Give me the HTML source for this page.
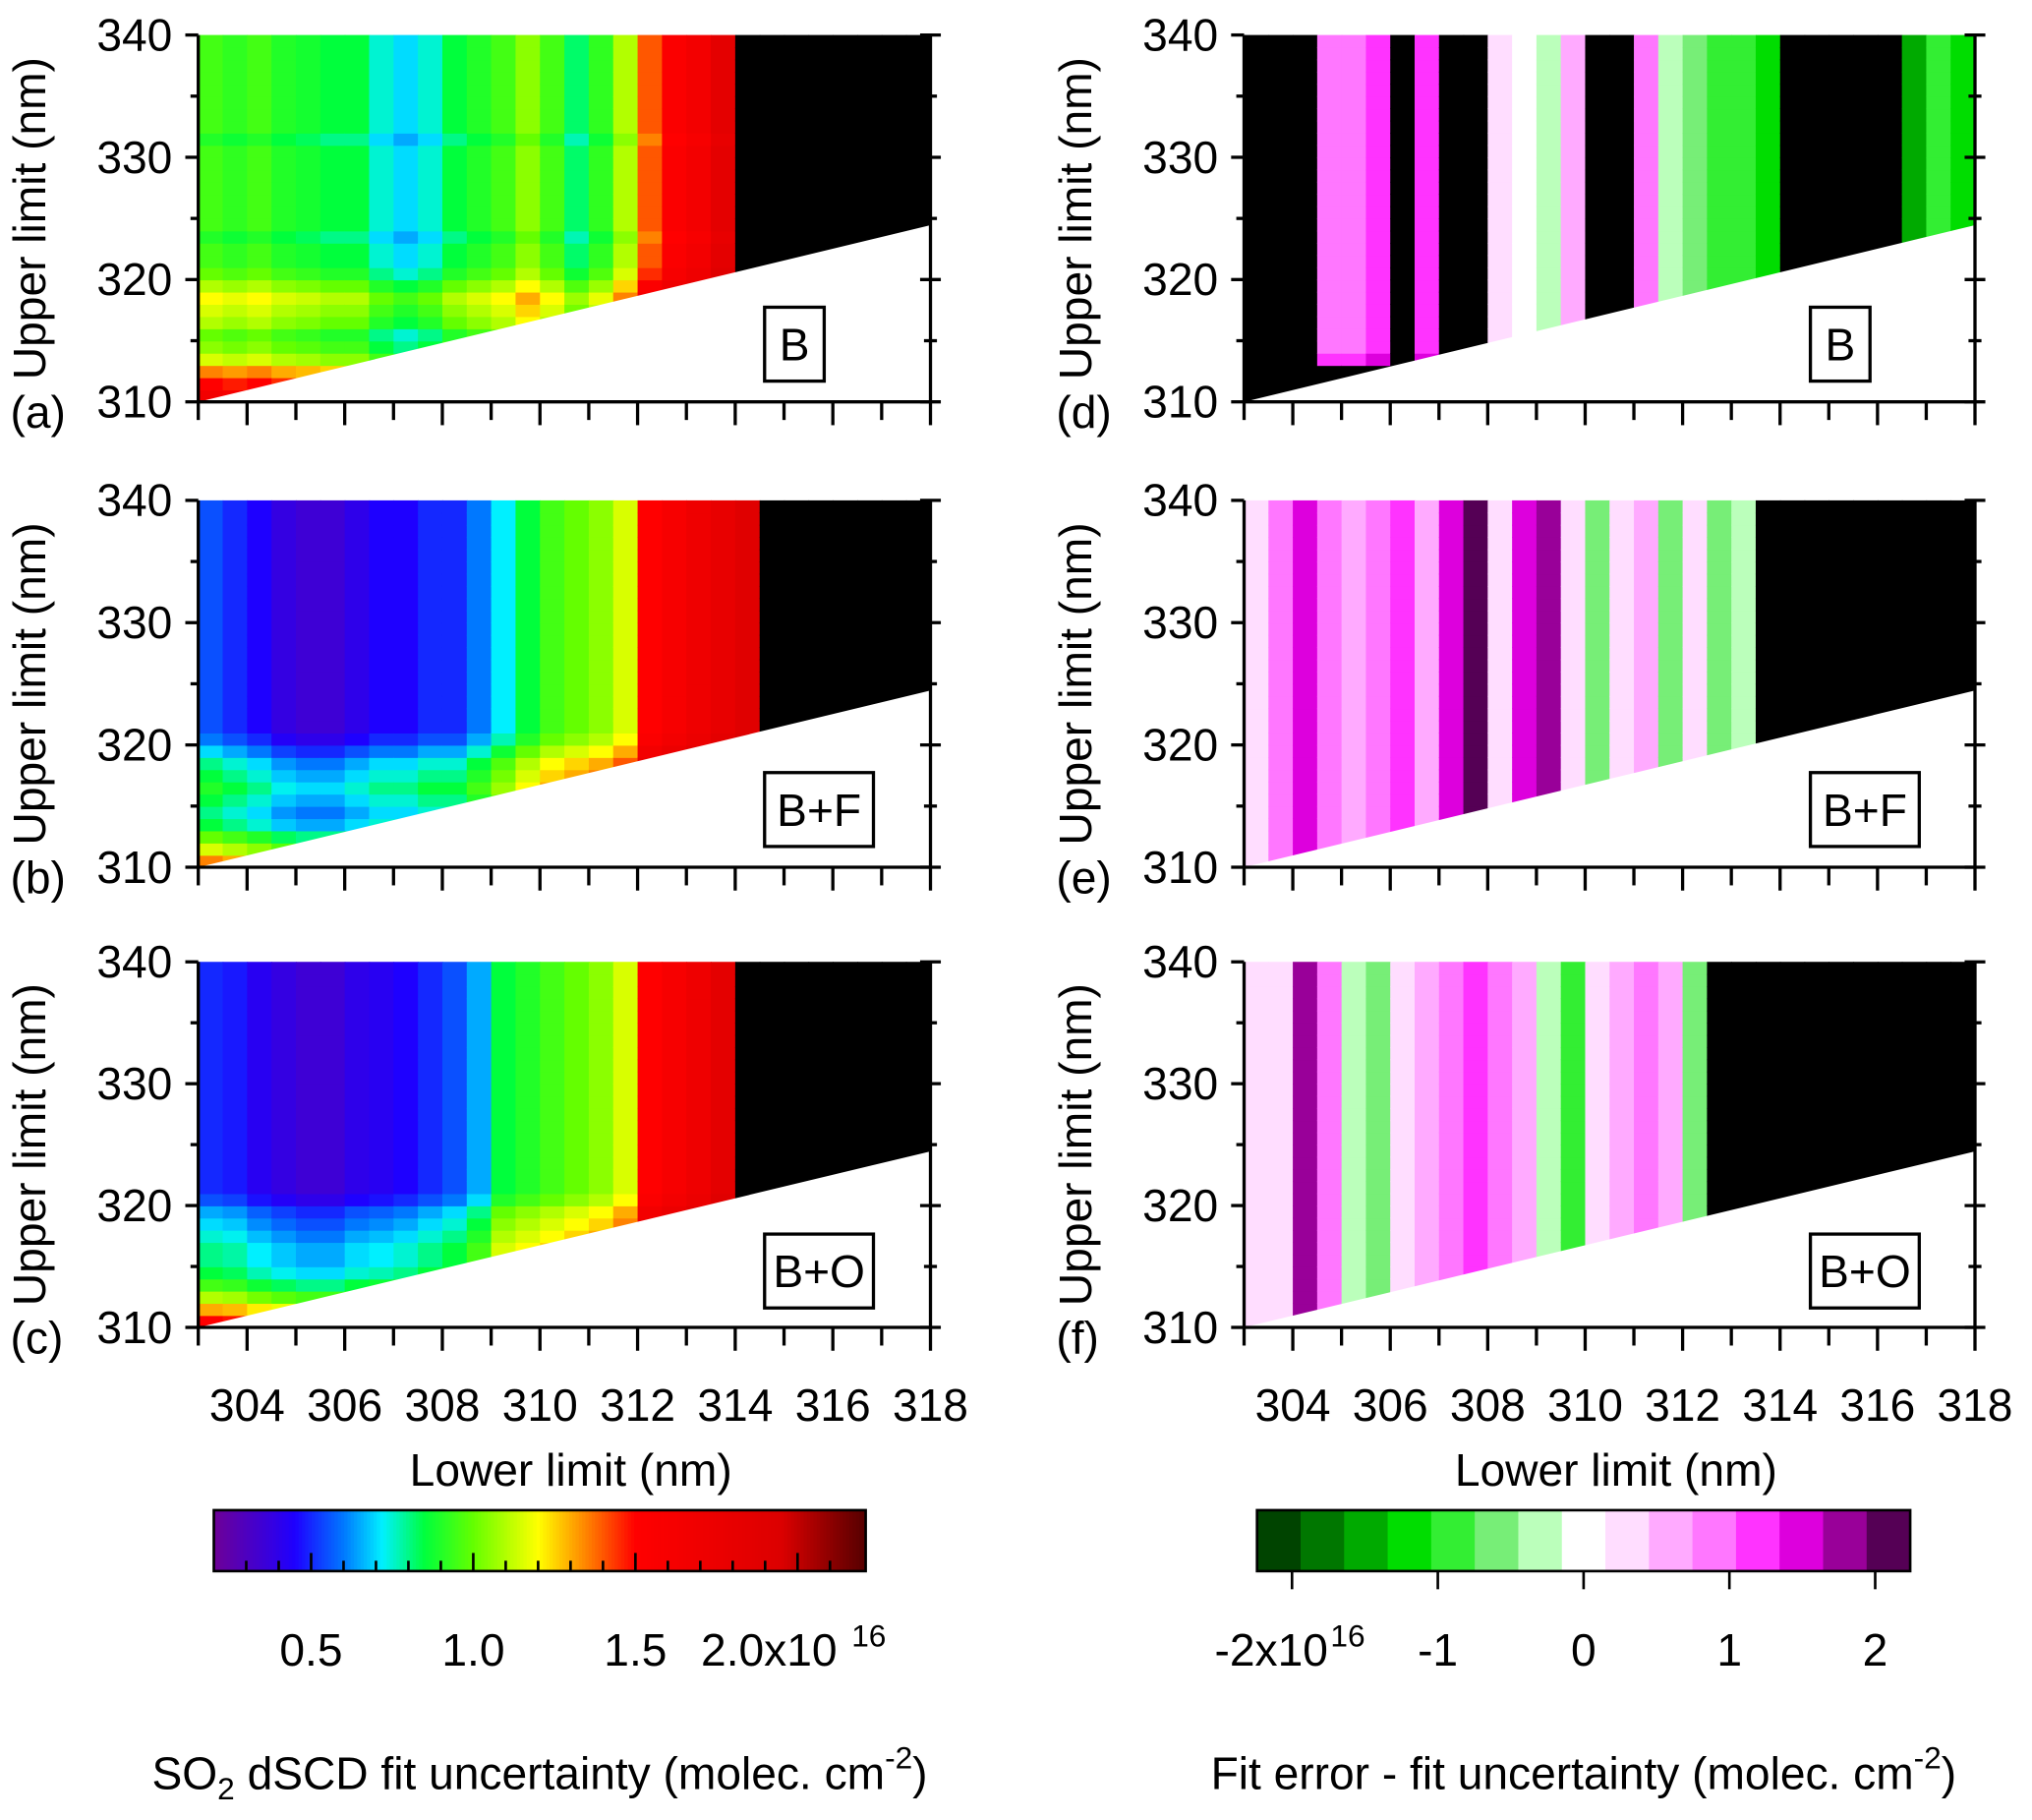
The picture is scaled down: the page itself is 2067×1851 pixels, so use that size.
<!DOCTYPE html>
<html><head><meta charset="utf-8"><style>
html,body{margin:0;padding:0;background:#fff;}
svg{display:block;font-family:"Liberation Sans",Arial,sans-serif;}
</style></head><body>
<svg id="fig" width="2067" height="1851" viewBox="0 0 1568 1404" preserveAspectRatio="none" xmlns="http://www.w3.org/2000/svg"></svg>
<script>
// ---- data (values in 1e16 molec cm^-2); 9 = black (no valid fit) ----
const lowerLimits=[303,303.5,304,304.5,305,305.5,306,306.5,307,307.5,308,308.5,309,309.5,310,310.5,311,311.5,312,312.5,313,313.5,314,314.5,315,315.5,316,316.5,317,317.5];
const upperLimits=[310,311,312,313,314,315,316,317,318,319,320,321,322,323,324,325,326,327,328,329,330,331,332,333,334,335,336,337,338,339];
const colA=[0.95,0.92,0.95,0.9,0.88,0.85,0.85,0.75,0.7,0.75,0.85,0.9,0.95,1.05,0.95,0.82,0.92,1.1,1.4,1.55,1.65,1.85,9,9,9,9,9,9,9,9];
const rowA=[0.7,0.55,0.4,0.2,0.1,0.05,0.15,0.2,0.25,0.15,0.05,0,0,-0.05,0,0,0,0,0,0,0,-0.05,0,0,0,0,0,0,0,0];
const colB=[0.55,0.5,0.45,0.38,0.35,0.35,0.4,0.45,0.45,0.5,0.5,0.6,0.72,0.85,0.95,1.0,1.05,1.15,1.5,1.6,1.7,1.8,1.9,9,9,9,9,9,9,9];
const rowB=[0.8,0.6,0.45,0.3,0.25,0.3,0.35,0.3,0.25,0.15,0.05,0,0,0,0,0,0,0,0,0,0,0,0,0,0,0,0,0,0,0];
const colC=[0.5,0.48,0.42,0.38,0.35,0.35,0.4,0.42,0.45,0.5,0.55,0.65,0.85,0.9,0.95,1.0,1.05,1.15,1.5,1.6,1.7,1.85,9,9,9,9,9,9,9,9];
const rowC=[1.0,0.8,0.6,0.45,0.35,0.3,0.3,0.25,0.2,0.15,0.05,0,0,0,0,0,0,0,0,0,0,0,0,0,0,0,0,0,0,0];
const colD=[9,9,9,1.0,0.8,1.2,9,1.2,9,9,0.3,0,-0.3,0.5,9,9,0.8,-0.3,-0.6,-1.0,-0.8,-1.2,9,9,9,9,9,-1.5,-1.0,-1.2];
const colE=[0.2,0.8,1.6,1.0,0.6,0.9,1.2,0.5,1.6,2.0,0.4,1.5,1.8,0.3,-0.6,0.4,0.5,-0.5,0.2,-0.6,-0.4,9,9,9,9,9,9,9,9,9];
const colF=[0.3,0.4,1.8,0.9,-0.3,-0.6,0.3,0.6,0.9,1.2,0.9,0.5,-0.4,-0.9,0.2,0.5,0.8,0.6,-0.5,9,9,9,9,9,9,9,9,9,9,9];
const rowD=[9,9,9,0.3,0,0,0,0,0,0,0,0,0,0,0,0,0,0,0,0,0,0,0,0,0,0,0,0,0,0];
const xTicks=[304,306,308,310,312,314,316,318];
const yTicks=[310,320,330,340];
const cbLeftTicks=[0.5,1.0,1.5,2.0];
const cbLeftLabels=["0.5","1.0","1.5","2.0x10"];
const cbRightTicks=[-2,-1,0,1,2];
const cbRightLabels=["-2x10","-1","0","1","2"];

const NS="http://www.w3.org/2000/svg";
const svg=document.getElementById('fig');
function mk(tag,attrs,parent){const e=document.createElementNS(NS,tag);for(const k in attrs)e.setAttribute(k,attrs[k]);(parent||svg).appendChild(e);return e;}

function lerp(a,b,t){return a+(b-a)*t;}
const rStops=[[0.2,[110,0,150]],[0.45,[30,0,255]],[0.6,[0,120,255]],[0.72,[0,240,255]],[0.85,[0,255,60]],[1.0,[100,255,0]],[1.2,[255,255,0]],[1.35,[255,130,0]],[1.5,[255,0,0]],[1.95,[220,0,0]],[2.2,[90,0,0]]];
function rainbow(v){if(v>=5)return '#000';v=Math.max(0.2,Math.min(2.2,v));for(let i=0;i<rStops.length-1;i++){const a=rStops[i],b=rStops[i+1];if(v<=b[0]){const t=(v-a[0])/(b[0]-a[0]);return 'rgb('+a[1].map((c,k)=>Math.round(lerp(c,b[1][k],t))).join(',')+')';}}return '#5a0000';}
const divCols=['#004400','#007700','#00aa00','#00dd00','#33ee33','#77ee77','#bbffbb','#ffffff','#ffddff','#ffaaff','#ff77ff','#ff33ff','#dd00dd','#990099','#550055'];
function diverg(v){if(v>=5)return '#000';const i=Math.max(0,Math.min(14,Math.floor((v+2.25)/0.3)));return divCols[i];}

const FS=35;
function panel(name,x0,x1,y0,y1,col,row,cmap,letter,boxLabel,showX){
  const g=mk('g',{});
  
  
  const xs=v=>x0+(v-303)*(x1-x0)/15, ys=v=>y1-(v-310)*(y1-y0)/30;
  for(let i=0;i<lowerLimits.length;i++)for(let j=0;j<upperLimits.length;j++){
    let v=col[i]; if(v<5){v+=row[j]; if(row[j]>=5)v=9;}
    const r=mk('rect',{x:xs(lowerLimits[i]).toFixed(2),y:ys(upperLimits[j]+1).toFixed(2),width:(xs(0.5)-xs(0)+0.6).toFixed(2),height:(ys(0)-ys(1)+0.6).toFixed(2),fill:cmap(v)},g);
    
    
  }
  const tri=mk('polygon',{points:`${xs(303)},${ys(310)} ${xs(318)+2},${ys(324.5)} ${xs(318)+2},${ys(310)+2}`,fill:'#fff'},g);
  
  
  mk('line',{x1:x0,y1:y0,x2:x0,y2:y1,stroke:'#000','stroke-width':2.5},g);
  mk('line',{x1:x1,y1:y0,x2:x1,y2:y1,stroke:'#000','stroke-width':2.5},g);
  mk('line',{x1:x0-1,y1:y1,x2:x1+1,y2:y1,stroke:'#000','stroke-width':2.5},g);
  for(let v=310;v<=340;v+=5){const y=ys(v),maj=v%10==0;
    mk('line',{x1:x0-(maj?10:6),y1:y,x2:x0,y2:y,stroke:'#000','stroke-width':2.5},g);
    mk('line',{x1:x1-(maj?8:5),y1:y,x2:x1+(maj?8:5),y2:y,stroke:'#000','stroke-width':2.5},g);}
  for(let v=303;v<=318;v++){mk('line',{x1:xs(v),y1:y1,x2:xs(v),y2:y1+(v%2==0?18:14),stroke:'#000','stroke-width':2.5},g);}
  yTicks.forEach(v=>{const t=mk('text',{x:x0-20,y:ys(v)+12,'font-size':FS,'text-anchor':'end'},g);t.textContent=v;
    });
  const yl=mk('text',{x:0,y:0,'font-size':FS,'text-anchor':'middle',transform:`translate(${x0-118},${(y0+y1)/2}) rotate(-90)`},g);
  yl.textContent='Upper limit (nm)';
  
  const lt=mk('text',{x:x0-145,y:y1+20,'font-size':FS},g);lt.textContent='('+letter+')';
  
  const bw=boxLabel.length>1?84:46, bx=x0+437;
  mk('rect',{x:bx,y:y0+210,width:bw,height:57,fill:'#fff',stroke:'#000','stroke-width':2.5},g);
  const bt=mk('text',{x:bx+bw/2,y:y0+251,'font-size':FS,'text-anchor':'middle'},g);bt.textContent=boxLabel;
  
  if(showX){xTicks.forEach(v=>{const t=mk('text',{x:xs(v),y:y1+72,'font-size':FS,'text-anchor':'middle'},g);t.textContent=v;
    });
    const xl=mk('text',{x:(x0+x1)/2+5,y:y1+122,'font-size':FS,'text-anchor':'middle'},g);xl.textContent='Lower limit (nm)';
    }
}
const zero=upperLimits.map(()=>0);
panel('a',153,718,27,310,colA,rowA,rainbow,'a','B',false);
panel('b',153,718,386,669,colB,rowB,rainbow,'b','B+F',false);
panel('c',153,718,742,1024,colC,rowC,rainbow,'c','B+O',true);
panel('d',960,1524,27,310,colD,rowD,diverg,'d','B',false);
panel('e',960,1524,386,669,colE,zero,diverg,'e','B+F',false);
panel('f',960,1524,742,1024,colF,zero,diverg,'f','B+O',true);

function colorbar(name,x0,x1,vmin,vmax,cmap,ticks,labels,title,discrete){
  const g=mk('g',{});
  
  
  const y0=1165,y1=1212,n=discrete?15:200;
  const sx=v=>x0+(v-vmin)*(x1-x0)/(vmax-vmin);
  for(let i=0;i<n;i++){const v=vmin+(i+0.5)*(vmax-vmin)/n;mk('rect',{x:x0+i*(x1-x0)/n,y:y0,width:(x1-x0)/n+0.5,height:y1-y0,fill:cmap(v)},g);}
  mk('rect',{x:x0,y:y0,width:x1-x0,height:y1-y0,fill:'none',stroke:'#000','stroke-width':2},g);
  if(!discrete){for(let v=0.3;v<2.2;v+=0.1){mk('line',{x1:sx(v),y1:y1,x2:sx(v),y2:y1-(Math.abs(v*2-Math.round(v*2))<0.01?14:8),stroke:'#000','stroke-width':2},g);}}
  else{ticks.forEach(v=>mk('line',{x1:sx(v),y1:y1,x2:sx(v),y2:y1+14,stroke:'#000','stroke-width':2},g));}
  ticks.forEach((v,i)=>{const isExp=labels[i].includes('x10');
    const t=mk('text',{x:sx(v)+(isExp?(discrete?-16:-22):0),y:1285,'font-size':FS,'text-anchor':'middle'},g);
    t.textContent=labels[i];
    if(isExp){const s=mk('text',{x:sx(v)+(discrete?43:55),y:1270,'font-size':24,'text-anchor':'middle'},g);s.textContent='16';}});
  const tt=mk('text',{x:(x0+x1)/2,y:1380,'font-size':FS,'text-anchor':'middle'},g);
  
  tt.innerHTML=title;
}
colorbar('colorbar-uncertainty',165,668,0.2,2.21,rainbow,cbLeftTicks,cbLeftLabels,'SO<tspan font-size="24" dy="8">2</tspan><tspan dy="-8"> dSCD fit uncertainty (molec. cm</tspan><tspan font-size="24" dy="-16">-2</tspan><tspan dy="16">)</tspan>',false);
colorbar('colorbar-difference',970,1474,-2.24,2.24,diverg,cbRightTicks,cbRightLabels,'Fit error - fit uncertainty (molec. cm<tspan font-size="24" dy="-16">-2</tspan><tspan dy="16">)</tspan>',true);
</script>
</body></html>
